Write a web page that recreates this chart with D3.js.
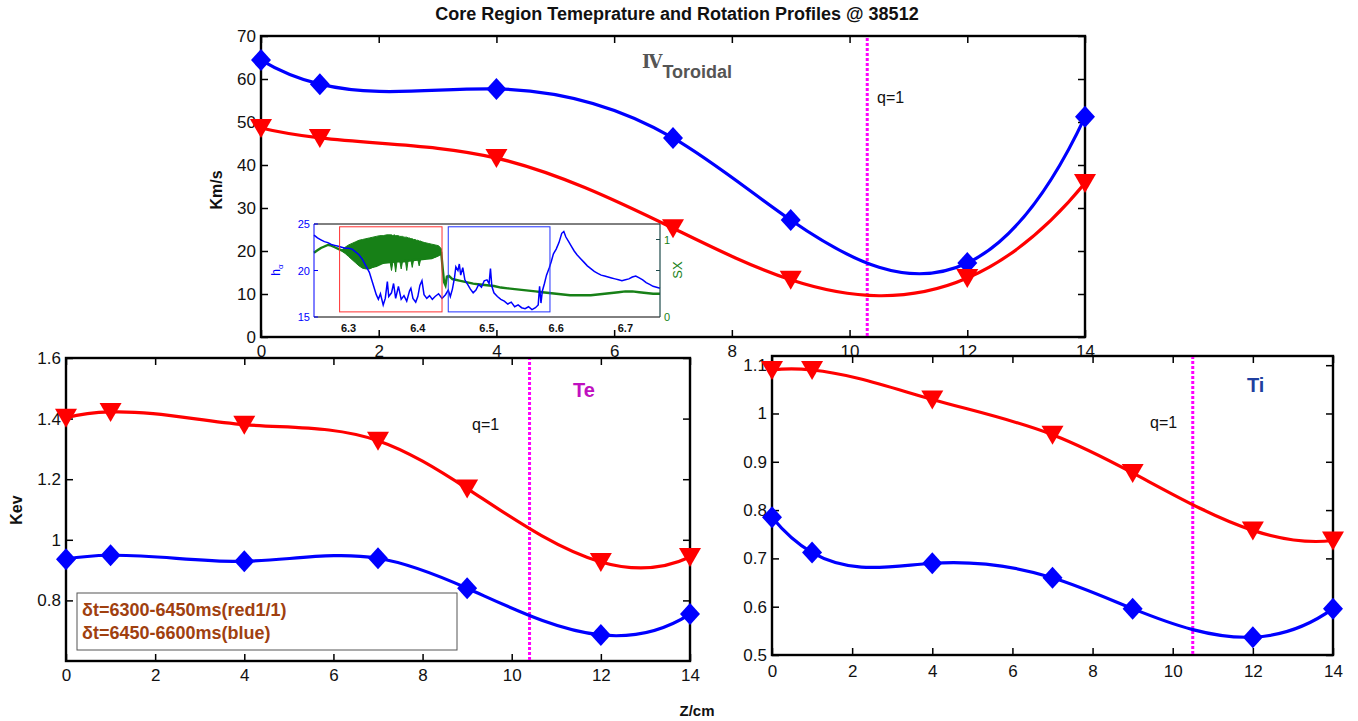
<!DOCTYPE html>
<html><head><meta charset="utf-8">
<script src="https://cdn.jsdelivr.net/npm/d3@7"></script>
<style>
body{margin:0;background:#fff}
svg{display:block;font-family:"Liberation Sans",Arial,sans-serif}
</style>
</head><body>
<svg id="fig" width="1358" height="721"></svg>
<script>
// ---- profile data (radial position Z in cm) ----
const zPos = [0, 1, 4, 7, 9, 12, 14];
const vtorBlue = [64.4, 58.8, 57.7, 46.3, 27.2, 17.2, 51.2];
const vtorRed  = [48.6, 46.3, 41.6, 25.3, 13.3, 13.7, 35.8];
const teRed    = [1.403, 1.422, 1.38, 1.327, 1.169, 0.927, 0.943];
const teBlue   = [0.936, 0.949, 0.929, 0.939, 0.84, 0.686, 0.755];
const tiRed    = [1.09, 1.09, 1.029, 0.956, 0.877, 0.758, 0.737];
const tiBlue   = [0.785, 0.712, 0.69, 0.66, 0.596, 0.537, 0.596];

// q=1 surface positions
const q1Vtor = 10.3, q1Te = 10.4, q1Ti = 10.5;

// tick values
const zTicks = [0, 2, 4, 6, 8, 10, 12, 14];
const vtorTicks = [0, 10, 20, 30, 40, 50, 60, 70];
const teTicks = [0.8, 1, 1.2, 1.4, 1.6];
const tiTicks = [0.5, 0.6, 0.7, 0.8, 0.9, 1, 1.1];

// ---- inset: H-alpha and soft X-ray traces vs time (s) ----
const haT = [6.250,6.255,6.260,6.265,6.270,6.275,6.280,6.285,6.290,6.295,6.300,6.305,6.310,6.315,6.320,6.325,6.330,6.335,6.340,6.343,6.346,6.350,6.353,6.356,6.358,6.362,6.365,6.368,6.372,6.376,6.380,6.384,6.388,6.390,6.393,6.397,6.400,6.403,6.406,6.409,6.413,6.417,6.421,6.425,6.430,6.435,6.440,6.444,6.447,6.450,6.453,6.455,6.458,6.460,6.462,6.465,6.468,6.472,6.476,6.480,6.484,6.488,6.492,6.496,6.500,6.503,6.505,6.507,6.510,6.515,6.520,6.525,6.530,6.535,6.540,6.545,6.550,6.555,6.560,6.565,6.570,6.574,6.576,6.578,6.580,6.583,6.586,6.590,6.593,6.596,6.600,6.604,6.608,6.611,6.614,6.618,6.622,6.626,6.630,6.635,6.640,6.645,6.650,6.655,6.660,6.665,6.670,6.675,6.680,6.685,6.690,6.695,6.700,6.705,6.710,6.715,6.720,6.725,6.730,6.735,6.740,6.745,6.750];
const haV = [23.8,23.5,23.3,23.1,23.0,22.8,22.7,22.6,22.5,22.4,22.4,22.3,22.0,21.7,21.2,20.5,19.8,18.6,17.4,16.9,17.5,16.3,17.0,18.8,17.2,17.6,18.6,17.0,18.3,16.9,17.3,16.7,17.8,18.1,17.0,16.6,17.2,18.4,18.9,17.4,17.0,17.3,16.9,17.2,17.5,17.0,17.4,17.9,17.2,18.0,19.2,20.4,20.0,20.7,19.5,20.3,19.0,18.5,18.0,17.6,17.9,18.5,18.2,18.9,19.0,18.6,20.2,18.3,17.6,17.2,16.9,16.7,16.4,16.6,16.1,16.3,16.0,15.9,16.1,15.8,16.0,16.3,18.3,16.5,17.8,18.6,19.5,20.3,21.0,21.8,22.3,23.0,24.0,24.2,23.6,23.1,22.6,22.1,21.7,21.3,20.9,20.5,20.2,19.9,19.7,19.5,19.4,19.3,19.2,19.1,19.0,18.9,19.0,19.1,19.3,19.4,19.2,19.0,18.7,18.5,18.3,18.2,18.1];

const sxT = [6.250,6.255,6.260,6.265,6.270,6.275,6.280,6.285,6.290,6.300,6.310,6.320,6.330,6.340,6.350,6.360,6.370,6.380,6.390,6.400,6.410,6.420,6.430,6.434,6.436,6.438,6.440,6.442,6.445,6.450,6.460,6.470,6.480,6.490,6.500,6.510,6.520,6.530,6.540,6.550,6.560,6.570,6.580,6.590,6.600,6.610,6.620,6.630,6.640,6.650,6.660,6.670,6.680,6.690,6.700,6.710,6.720,6.730,6.740,6.750];
const sxV = [0.83,0.86,0.89,0.91,0.93,0.92,0.90,0.88,0.86,0.84,0.80,0.72,0.64,0.66,0.70,0.71,0.72,0.72,0.73,0.74,0.75,0.76,0.80,0.82,0.62,0.45,0.41,0.52,0.53,0.49,0.47,0.45,0.43,0.42,0.41,0.40,0.38,0.37,0.36,0.35,0.34,0.33,0.32,0.31,0.30,0.29,0.28,0.28,0.28,0.28,0.29,0.30,0.31,0.32,0.33,0.33,0.32,0.31,0.30,0.30];

// sawtooth band during the 1/1 mode window
const bandT  = [6.290,6.295,6.300,6.305,6.310,6.315,6.320,6.325,6.330,6.335,6.340,6.345,6.350,6.355,6.360,6.362,6.364,6.366,6.368,6.370,6.372,6.374,6.376,6.378,6.380,6.382,6.384,6.386,6.388,6.390,6.392,6.394,6.396,6.398,6.400,6.402,6.404,6.406,6.410,6.415,6.420,6.425,6.430,6.434];
const bandLo = [0.85,0.82,0.78,0.74,0.70,0.66,0.63,0.62,0.62,0.64,0.66,0.68,0.70,0.71,0.71,0.60,0.71,0.72,0.58,0.72,0.72,0.72,0.62,0.72,0.73,0.73,0.60,0.73,0.73,0.74,0.64,0.74,0.74,0.74,0.74,0.66,0.74,0.75,0.75,0.76,0.76,0.77,0.79,0.82];
const bandHi = [0.86,0.90,0.93,0.95,0.97,0.99,1.00,1.01,1.02,1.03,1.04,1.05,1.05,1.06,1.06,1.06,1.05,1.06,1.05,1.05,1.05,1.04,1.04,1.04,1.03,1.03,1.03,1.02,1.02,1.01,1.01,1.00,1.00,0.99,0.99,0.98,0.98,0.97,0.96,0.95,0.94,0.93,0.92,0.88];

const insetTimeTicks = [6.3, 6.4, 6.5, 6.6, 6.7];
const haTicks = [15, 20, 25];
const redWin = [6.287, 6.435], blueWin = [6.444, 6.591], winRange = [15.55, 24.7];

const svg = d3.select("#fig");
const FONT = '"Liberation Sans", Arial, sans-serif';
const fmt = d3.format("~g");

const diamond = "M0,-11L10,0L0,11L-10,0Z";
const triDown = "M-11,-9L11,-9L0,10Z";

// Cubic spline curve with not-a-knot end conditions, usable as a d3.line curve.
function NotAKnot(context) { this._context = context; }
NotAKnot.prototype = {
  areaStart() {}, areaEnd() {},
  lineStart() { this._x = []; this._y = []; },
  point(x, y) { this._x.push(+x); this._y.push(+y); },
  lineEnd() {
    const X = this._x, Y = this._y, n = X.length, c = this._context;
    if (!n) return;
    c.moveTo(X[0], Y[0]);
    if (n < 4) { for (let i = 1; i < n; i++) c.lineTo(X[i], Y[i]); return; }
    const h = d3.range(n - 1).map(i => X[i + 1] - X[i]);
    const A = d3.range(n).map(() => new Array(n).fill(0)), b = new Array(n).fill(0);
    A[0][0] = h[1]; A[0][1] = -(h[0] + h[1]); A[0][2] = h[0];
    for (let i = 1; i < n - 1; i++) {
      A[i][i - 1] = h[i - 1]; A[i][i] = 2 * (h[i - 1] + h[i]); A[i][i + 1] = h[i];
      b[i] = 6 * ((Y[i + 1] - Y[i]) / h[i] - (Y[i] - Y[i - 1]) / h[i - 1]);
    }
    A[n - 1][n - 3] = h[n - 2]; A[n - 1][n - 2] = -(h[n - 3] + h[n - 2]); A[n - 1][n - 1] = h[n - 3];
    // Gaussian elimination with partial pivoting
    for (let k = 0; k < n; k++) {
      let p = k;
      for (let r = k + 1; r < n; r++) if (Math.abs(A[r][k]) > Math.abs(A[p][k])) p = r;
      [A[k], A[p]] = [A[p], A[k]]; [b[k], b[p]] = [b[p], b[k]];
      for (let r = k + 1; r < n; r++) {
        const f = A[r][k] / A[k][k];
        for (let j = k; j < n; j++) A[r][j] -= f * A[k][j];
        b[r] -= f * b[k];
      }
    }
    const M = new Array(n).fill(0);
    for (let k = n - 1; k >= 0; k--) {
      let s = b[k];
      for (let j = k + 1; j < n; j++) s -= A[k][j] * M[j];
      M[k] = s / A[k][k];
    }
    const d = X.map((_, i) => i < n - 1
      ? (Y[i + 1] - Y[i]) / h[i] - h[i] * (2 * M[i] + M[i + 1]) / 6
      : (Y[n - 1] - Y[n - 2]) / h[n - 2] + h[n - 2] * (M[n - 2] + 2 * M[n - 1]) / 6);
    for (let i = 0; i < n - 1; i++) {
      const t = h[i] / 3;
      c.bezierCurveTo(X[i] + t, Y[i] + d[i] * t, X[i + 1] - t, Y[i + 1] - d[i + 1] * t, X[i + 1], Y[i + 1]);
    }
  }
};
const curveNotAKnot = context => new NotAKnot(context);

function panel(box, xDom, yDom, yTicks, xPad) {
  const g = svg.append("g");
  const x = d3.scaleLinear().domain(xDom).range([box.l, box.r]);
  const y = d3.scaleLinear().domain(yDom).range([box.b, box.t]);
  g.append("rect").attr("x", box.l).attr("y", box.t)
    .attr("width", box.r - box.l).attr("height", box.b - box.t).attr("fill", "#fff");
  const style = a => {
    a.select(".domain").remove();
    a.selectAll("line").attr("stroke", "#000").attr("stroke-width", 1.5);
    a.selectAll("text").attr("font-size", 17).attr("fill", "#111").attr("font-family", FONT);
  };
  g.append("g").attr("transform", `translate(0,${box.b})`)
    .call(d3.axisBottom(x).tickValues(zTicks).tickSizeInner(-7).tickSizeOuter(0).tickPadding(xPad).tickFormat(fmt)).call(style);
  g.append("g").attr("transform", `translate(0,${box.t})`)
    .call(d3.axisTop(x).tickValues(zTicks).tickSizeInner(-7).tickSizeOuter(0).tickFormat("")).call(style);
  g.append("g").attr("transform", `translate(${box.l},0)`)
    .call(d3.axisLeft(y).tickValues(yTicks).tickSizeInner(-7).tickSizeOuter(0).tickPadding(5).tickFormat(fmt)).call(style);
  g.append("g").attr("transform", `translate(${box.r},0)`)
    .call(d3.axisRight(y).tickValues(yTicks).tickSizeInner(-7).tickSizeOuter(0).tickFormat("")).call(style);
  g.append("rect").attr("x", box.l).attr("y", box.t)
    .attr("width", box.r - box.l).attr("height", box.b - box.t)
    .attr("fill", "none").attr("stroke", "#000").attr("stroke-width", 2.4);
  return {g, x, y};
}

function profile(p, vals, color, marker) {
  const pts = zPos.map((z, i) => [z, vals[i]]);
  const line = d3.line().x(d => p.x(d[0])).y(d => p.y(d[1])).curve(curveNotAKnot);
  p.g.append("path").attr("d", line(pts)).attr("fill", "none")
    .attr("stroke", color).attr("stroke-width", 3.2);
  p.g.selectAll(null).data(pts).enter().append("path")
    .attr("d", marker).attr("fill", color)
    .attr("transform", d => `translate(${p.x(d[0])},${p.y(d[1])})`);
}

function q1Line(p, zq) {
  const [y0, y1] = p.y.range();
  p.g.append("line").attr("x1", p.x(zq)).attr("x2", p.x(zq))
    .attr("y1", y0 - 1).attr("y2", y1 + 1)
    .attr("stroke", "#ff00ff").attr("stroke-width", 3).attr("stroke-dasharray", "3,2");
}

function label(txt, x, y, size, opts = {}) {
  const t = svg.append("text").attr("x", x).attr("y", y).attr("font-size", size)
    .attr("font-family", FONT).attr("fill", opts.fill || "#111")
    .attr("font-weight", opts.bold ? "bold" : "normal")
    .attr("text-anchor", opts.anchor || "start").text(txt);
  if (opts.rotate) t.attr("transform", `rotate(-90,${x},${y})`);
  return t;
}

// ---- title ----
label("Core Region Temeprature and Rotation Profiles @ 38512", 677, 20, 18, {bold: true, anchor: "middle"});

// ---- upper panel: toroidal rotation ----
const vtorPanel = panel({l: 261, r: 1085, t: 36, b: 337}, [0, 14], [0, 70], vtorTicks, 8);
label("Km/s", 222, 190, 16, {bold: true, anchor: "middle", rotate: true});
q1Line(vtorPanel, q1Vtor);
label("q=1", 877, 103, 16);
const vt = svg.append("text").attr("x", 642).attr("y", 68).attr("fill", "#555").attr("font-weight", "bold");
vt.append("tspan").attr("font-family", '"DejaVu Serif", serif').attr("font-size", 18).text("Ⅳ");
vt.append("tspan").attr("font-family", FONT).attr("font-size", 18).attr("dy", 10).text("Toroidal");
profile(vtorPanel, vtorBlue, "#0000ff", diamond);
profile(vtorPanel, vtorRed, "#ff0000", triDown);

// ---- inset ----
(function inset() {
  const b = {l: 314, r: 660, t: 224, b: 317};
  const g = svg.append("g");
  const x = d3.scaleLinear().domain([6.25, 6.75]).range([b.l, b.r]);
  const yL = d3.scaleLinear().domain([15, 25]).range([b.b, b.t]);
  const yR = d3.scaleLinear().domain([0, 1.2]).range([b.b, b.t]);
  g.append("rect").attr("x", b.l).attr("y", b.t).attr("width", b.r - b.l).attr("height", b.b - b.t).attr("fill", "#fff");
  // SX band and trace
  const band = d3.area().x((d, i) => x(bandT[i])).y0((d, i) => yR(bandLo[i])).y1((d, i) => yR(bandHi[i]));
  g.append("path").attr("d", band(bandT)).attr("fill", "#178017").attr("stroke", "#178017").attr("stroke-width", 1);
  const sx = d3.line().x((d, i) => x(sxT[i])).y((d, i) => yR(sxV[i]));
  g.append("path").attr("d", sx(sxT)).attr("fill", "none").attr("stroke", "#178017").attr("stroke-width", 2.4);
  // H-alpha
  const ha = d3.line().x((d, i) => x(haT[i])).y((d, i) => yL(haV[i]));
  g.append("path").attr("d", ha(haT)).attr("fill", "none").attr("stroke", "#0000ff").attr("stroke-width", 1.5);
  // time windows
  g.append("rect").attr("x", x(redWin[0])).attr("y", yL(winRange[1]))
    .attr("width", x(redWin[1]) - x(redWin[0])).attr("height", yL(winRange[0]) - yL(winRange[1]))
    .attr("fill", "none").attr("stroke", "#ff3030").attr("stroke-width", 1);
  g.append("rect").attr("x", x(blueWin[0])).attr("y", yL(winRange[1]))
    .attr("width", x(blueWin[1]) - x(blueWin[0])).attr("height", yL(winRange[0]) - yL(winRange[1]))
    .attr("fill", "none").attr("stroke", "#2030ff").attr("stroke-width", 1);
  // frame
  g.append("line").attr("x1", b.l).attr("x2", b.r).attr("y1", b.t).attr("y2", b.t).attr("stroke", "#000");
  g.append("line").attr("x1", b.l).attr("x2", b.r).attr("y1", b.b).attr("y2", b.b).attr("stroke", "#000");
  g.append("line").attr("x1", b.l).attr("x2", b.l).attr("y1", b.t).attr("y2", b.b).attr("stroke", "#0000ff");
  g.append("line").attr("x1", b.r).attr("x2", b.r).attr("y1", b.t).attr("y2", b.b).attr("stroke", "#1e4a4a").attr("stroke-width", 1.2);
  haTicks.forEach(v => {
    g.append("line").attr("x1", b.l).attr("x2", b.l + 4).attr("y1", yL(v)).attr("y2", yL(v)).attr("stroke", "#0000ff");
    g.append("text").attr("x", b.l - 4).attr("y", yL(v) + 4).attr("text-anchor", "end")
      .attr("font-size", 11).attr("fill", "#0000ff").text(v);
  });
  [0.6, 1].forEach(v => g.append("line").attr("x1", b.r - 4).attr("x2", b.r).attr("y1", yR(v)).attr("y2", yR(v)).attr("stroke", "#1e4a4a"));
  [0, 1].forEach(v => g.append("text").attr("x", b.r + 4).attr("y", yR(v) + 4)
    .attr("font-size", 11).attr("fill", "#178017").text(v));
  insetTimeTicks.forEach(v => g.append("text").attr("x", x(v)).attr("y", b.b + 15).attr("text-anchor", "middle")
    .attr("font-size", 11).attr("font-weight", "bold").attr("fill", "#111").text(v.toFixed(1)));
  const hl = g.append("text").attr("transform", `translate(280,270) rotate(-90)`).attr("text-anchor", "middle")
    .attr("font-size", 12).attr("fill", "#0000ff");
  hl.append("tspan").text("h");
  hl.append("tspan").attr("font-size", 8).attr("dy", 3).text("α");
  g.append("text").attr("transform", `translate(682,270) rotate(-90)`).attr("text-anchor", "middle")
    .attr("font-size", 13).attr("fill", "#178017").text("SX");
})();

// ---- bottom left: electron temperature ----
const te = panel({l: 66, r: 690, t: 358, b: 661}, [0, 14], [0.6, 1.6], teTicks, 8);
label("Kev", 22, 510, 16, {bold: true, anchor: "middle", rotate: true});
q1Line(te, q1Te);
label("q=1", 472, 430, 16);
label("Te", 573, 397, 20, {bold: true, fill: "#c010c0"});
profile(te, teBlue, "#0000ff", diamond);
profile(te, teRed, "#ff0000", triDown);
// legend box
svg.append("rect").attr("x", 77).attr("y", 593).attr("width", 380).attr("height", 57)
  .attr("fill", "#fff").attr("stroke", "#555").attr("stroke-width", 1);
label("δt=6300-6450ms(red1/1)", 82, 616, 18, {bold: true, fill: "#a0400f"});
label("δt=6450-6600ms(blue)", 82, 639, 18, {bold: true, fill: "#a0400f"});

// ---- bottom right: ion temperature ----
const ti = panel({l: 772, r: 1333, t: 356, b: 655}, [0, 14], [0.5, 1.119], tiTicks, 10);
q1Line(ti, q1Ti);
label("q=1", 1150, 428, 16);
label("Ti", 1247, 392, 20, {bold: true, fill: "#1f3fa0"});
profile(ti, tiBlue, "#0000ff", diamond);
profile(ti, tiRed, "#ff0000", triDown);

label("Z/cm", 697, 716, 15, {bold: true, anchor: "middle"});
</script>
</body></html>
